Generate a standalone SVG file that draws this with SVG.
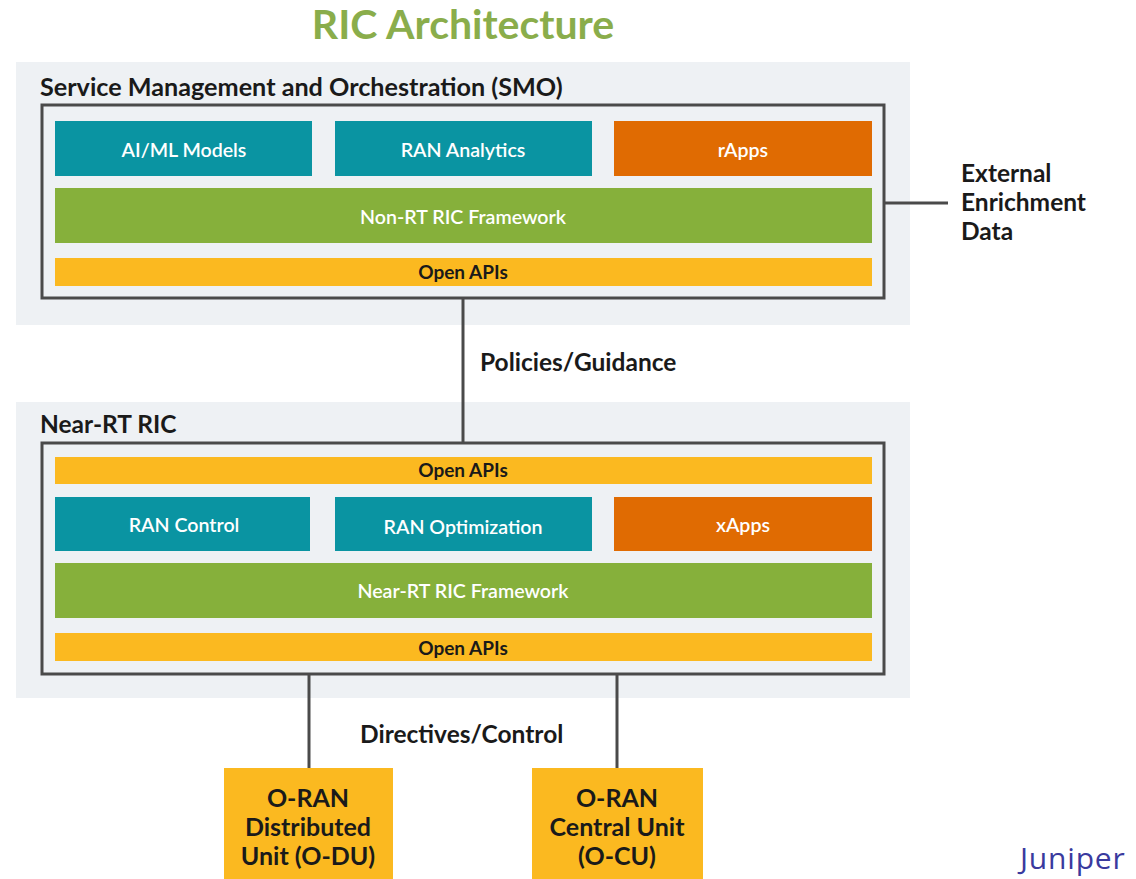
<svg xmlns="http://www.w3.org/2000/svg" width="1136" height="879" viewBox="0 0 1136 879">
<style>
text{font-family:Lato,"Open Sans","Liberation Sans",sans-serif;font-weight:700}
.panel{fill:#eef1f4}
.frame{fill:none;stroke:#4a4a4a;stroke-width:3}
.teal{fill:#0a94a2}
.orange{fill:#e06b02}
.green{fill:#86b03b}
.yellow{fill:#fbb920}
.w{fill:#ffffff;font-size:19.6px;text-anchor:middle;font-weight:600}
.k{fill:#1a1a1a;font-size:19px;text-anchor:middle}
.lbl{fill:#1a1a1a;font-size:24.5px}
.unit{fill:#1a1a1a;font-size:25px;text-anchor:middle}
.conn{stroke:#4a4a4a;stroke-width:3;fill:none}
</style>
<rect width="1136" height="879" fill="#ffffff"/>
<text x="463" y="39" text-anchor="middle" style="font-size:41px;fill:#8aad4b">RIC Architecture</text>

<g id="smo">
<rect class="panel" x="16" y="62" width="894" height="263"/>
<text class="lbl" x="40" y="96" style="font-size:25.2px">Service Management and Orchestration (SMO)</text>
<rect class="frame" x="42" y="105" width="842" height="193"/>
</g>
<g id="aiml"><rect class="teal" x="55" y="121" width="257" height="55"/><text class="w" x="184" y="157">AI/ML Models</text></g>
<g id="ran-analytics"><rect class="teal" x="335" y="121" width="257" height="55"/><text class="w" x="463" y="157">RAN Analytics</text></g>
<g id="rapps"><rect class="orange" x="614" y="121" width="258" height="55"/><text class="w" x="743" y="157">rApps</text></g>
<g id="nonrt-fw"><rect class="green" x="55" y="188" width="817" height="55"/><text class="w" x="463" y="224">Non-RT RIC Framework</text></g>
<g id="smo-apis"><rect class="yellow" x="55" y="258" width="817" height="28"/><text class="k" x="463" y="279">Open APIs</text></g>

<g id="external"><text class="lbl" x="961" y="182">External</text><text class="lbl" x="961" y="211">Enrichment</text><text class="lbl" x="961" y="240">Data</text></g>

<g id="nearrt">
<rect class="panel" x="16" y="402" width="894" height="296"/>
<text class="lbl" x="40" y="433">Near-RT RIC</text>
<rect class="frame" x="42" y="443" width="842" height="231"/>
</g>
<g id="near-apis-top"><rect class="yellow" x="55" y="457" width="817" height="27"/><text class="k" x="463" y="477">Open APIs</text></g>
<g id="ran-control"><rect class="teal" x="55" y="497" width="255" height="54"/><text class="w" x="184" y="532">RAN Control</text></g>
<g id="ran-opt"><rect class="teal" x="335" y="497" width="257" height="54"/><text class="w" x="463" y="534">RAN Optimization</text></g>
<g id="xapps"><rect class="orange" x="614" y="497" width="258" height="54"/><text class="w" x="743" y="532">xApps</text></g>
<g id="nearrt-fw"><rect class="green" x="55" y="563" width="817" height="55"/><text class="w" x="463" y="598">Near-RT RIC Framework</text></g>
<g id="near-apis-bottom"><rect class="yellow" x="55" y="633" width="817" height="28"/><text class="k" x="463" y="655">Open APIs</text></g>

<g id="odu"><rect class="yellow" x="224" y="768" width="169" height="111"/>
<text class="unit" x="308" y="807">O-RAN</text><text class="unit" x="308" y="836">Distributed</text><text class="unit" x="308" y="865">Unit (O-DU)</text></g>
<g id="ocu"><rect class="yellow" x="532" y="768" width="171" height="111"/>
<text class="unit" x="617" y="807">O-RAN</text><text class="unit" x="617" y="836">Central Unit</text><text class="unit" x="617" y="865">(O-CU)</text></g>

<g id="connectors">
<line class="conn" x1="884" y1="203" x2="948" y2="203"/>
<line class="conn" x1="463" y1="298" x2="463" y2="443"/>
<line class="conn" x1="309" y1="674" x2="309" y2="768"/>
<line class="conn" x1="617" y1="674" x2="617" y2="768"/>
<text class="lbl" x="480" y="371">Policies/Guidance</text>
<text class="lbl" x="360" y="743">Directives/Control</text>
</g>

<text x="1020" y="869" style="font-family:'Open Sans','Liberation Sans',sans-serif;font-weight:400;font-size:30px;letter-spacing:0.8px;fill:#3a3a9e">Juniper</text>
</svg>
